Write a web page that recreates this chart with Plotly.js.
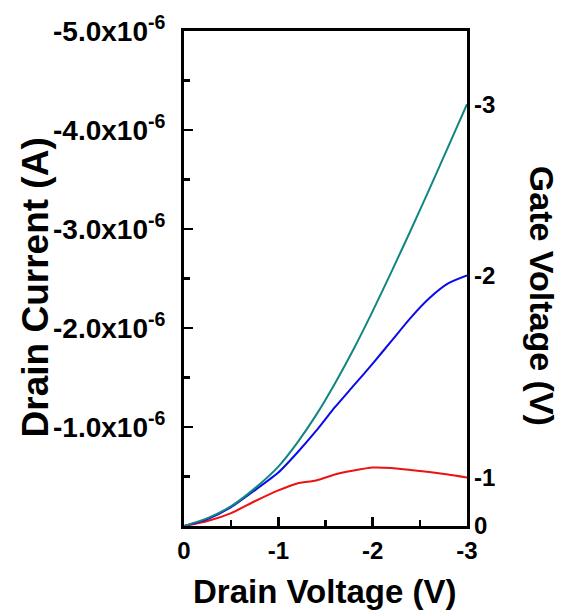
<!DOCTYPE html>
<html>
<head>
<meta charset="utf-8">
<script src="https://cdn.plot.ly/plotly-3.0.1.min.js"></script>
<style>html,body{margin:0;padding:0;background:#fff;}#chart{width:564px;height:614px;}</style>
</head>
<body>
<div id="chart"></div>
<script>
// Drain voltage (V)
const drainVoltage = [0, -0.25, -0.5, -0.75, -1.0, -1.2, -1.4, -1.6, -1.8, -2.0, -2.2, -2.4, -2.6, -2.8, -3.0];
// Drain current (A) for each gate voltage
const currentVg3 = [0, -0.08e-6, -0.20e-6, -0.38e-6, -0.60e-6, -0.84e-6, -1.12e-6, -1.44e-6, -1.79e-6, -2.17e-6, -2.57e-6, -2.98e-6, -3.40e-6, -3.83e-6, -4.26e-6];
const currentVg2 = [0, -0.07e-6, -0.19e-6, -0.36e-6, -0.54e-6, -0.74e-6, -0.96e-6, -1.20e-6, -1.42e-6, -1.64e-6, -1.87e-6, -2.10e-6, -2.30e-6, -2.45e-6, -2.53e-6];
const currentVg1 = [0, -0.05e-6, -0.13e-6, -0.25e-6, -0.36e-6, -0.43e-6, -0.46e-6, -0.52e-6, -0.56e-6, -0.59e-6, -0.585e-6, -0.565e-6, -0.545e-6, -0.52e-6, -0.49e-6];
const gateLabels = ['0', '-1', '-2', '-3'];
const yTickVals = [-1e-6, -2e-6, -3e-6, -4e-6, -5e-6];
const yTickText = ['-1.0x10<sup>-6</sup>', '-2.0x10<sup>-6</sup>', '-3.0x10<sup>-6</sup>', '-4.0x10<sup>-6</sup>', '-5.0x10<sup>-6</sup>'];
const xTickVals = [0, -1, -2, -3];
const xTickText = ['0', '-1', '-2', '-3'];

const last = a => a[a.length - 1];
const bold = s => '<b>' + s + '</b>';
const gateTickVals = [0, last(currentVg1), last(currentVg2), last(currentVg3)];

const fontFam = 'Liberation Sans, Arial, sans-serif';
const titleFont = sz => ({family: fontFam, size: sz, color: '#000'});

const traces = [
  {x: drainVoltage, y: currentVg1, mode: 'lines', line: {color: '#ee1111', width: 2, shape: 'spline', smoothing: 0.6}, showlegend: false, hoverinfo: 'skip'},
  {x: drainVoltage, y: currentVg2, mode: 'lines', line: {color: '#0a0aeb', width: 2, shape: 'spline', smoothing: 0.6}, showlegend: false, hoverinfo: 'skip'},
  {x: drainVoltage, y: currentVg3, mode: 'lines', line: {color: '#108682', width: 2, shape: 'spline', smoothing: 0.6}, showlegend: false, hoverinfo: 'skip'},
  {x: [drainVoltage[0]], y: [currentVg1[0]], yaxis: 'y2', mode: 'markers', marker: {opacity: 0}, showlegend: false, hoverinfo: 'skip'}
];

const layout = {
  width: 564, height: 614,
  margin: {l: 184, r: 97, t: 31, b: 88},
  paper_bgcolor: '#fff', plot_bgcolor: '#fff',
  font: {family: fontFam, color: '#000'},
  xaxis: {
    range: [0, -3], tickmode: 'array', tickvals: xTickVals, ticktext: xTickText.map(bold),
    ticks: 'inside', ticklen: 9, tickwidth: 2.5, tickcolor: '#000',
    minor: {ticks: 'inside', ticklen: 6, tickwidth: 2.5, tickcolor: '#000', dtick: 0.5, tick0: 0},
    showline: true, linewidth: 3, linecolor: '#000', mirror: true,
    showgrid: false, zeroline: false, tickfont: {family: fontFam, size: 24, color: '#000'},
    ticklabelstandoff: 1
  },
  yaxis: {
    range: [0, -5e-6], tickmode: 'array', tickvals: yTickVals, ticktext: yTickText.map(bold),
    ticks: 'inside', ticklen: 9, tickwidth: 2.5, tickcolor: '#000',
    minor: {ticks: 'inside', ticklen: 6, tickwidth: 2.5, tickcolor: '#000', dtick: 0.5e-6, tick0: 0},
    showline: true, linewidth: 3, linecolor: '#000', mirror: true,
    showgrid: false, zeroline: false, tickfont: {family: fontFam, size: 28, color: '#000'},
    ticklabelstandoff: 10
  },
  yaxis2: {
    overlaying: 'y', side: 'right', range: [0, -5e-6],
    tickmode: 'array', tickvals: gateTickVals, ticktext: gateLabels.map(bold),
    ticks: '', showline: false, showgrid: false, zeroline: false,
    tickfont: {family: fontFam, size: 24, color: '#000'}, ticklabelstandoff: 6
  },
  annotations: [
    {text: bold('Drain Current (A)'), textangle: -90, xref: 'paper', yref: 'paper',
     x: -0.5265, y: 0.482, xanchor: 'center', yanchor: 'middle', showarrow: false, font: titleFont(37)},
    {text: bold('Drain Voltage (V)'), xref: 'paper', yref: 'paper',
     x: 0.498, y: -0.133, xanchor: 'center', yanchor: 'middle', showarrow: false, font: titleFont(33)},
    {text: bold('Gate Voltage (V)'), textangle: 90, xref: 'paper', yref: 'paper',
     x: 1.265, y: 0.465, xanchor: 'center', yanchor: 'middle', showarrow: false, font: titleFont(34)}
  ]
};

Plotly.newPlot('chart', traces, layout, {staticPlot: true, displayModeBar: false});
</script>
</body>
</html>
